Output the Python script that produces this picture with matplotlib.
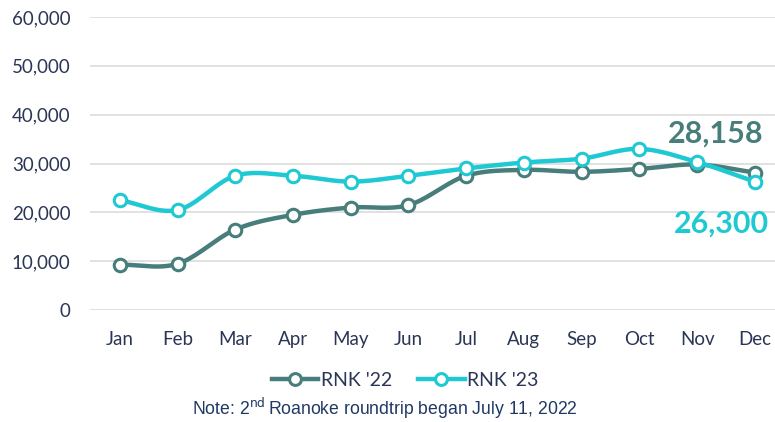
import numpy as np
import matplotlib.pyplot as plt
from matplotlib.lines import Line2D

months = ["Jan", "Feb", "Mar", "Apr", "May", "Jun", "Jul", "Aug", "Sep", "Oct", "Nov", "Dec"]
rnk_22 = [9300, 9500, 16500, 19500, 21000, 21500, 27500, 28700, 28300, 28900, 29800, 28158]
rnk_23 = [22500, 20500, 27500, 27500, 26300, 27500, 29000, 30200, 31000, 33000, 30300, 26300]
yticks = [0, 10000, 20000, 30000, 40000, 50000, 60000]

DARK = "#477D7B"
CYAN = "#1FC9D3"
TEXT = "#2B3656"


def smooth(x, y, n=20):
    """Catmull-Rom curve through the points (like Excel's smoothed line)."""
    x = np.asarray(x, float)
    y = np.asarray(y, float)
    px = np.concatenate([[2 * x[0] - x[1]], x, [2 * x[-1] - x[-2]]])
    py = np.concatenate([[2 * y[0] - y[1]], y, [2 * y[-1] - y[-2]]])
    xs, ys = [], []
    t = np.linspace(0, 1, n)
    for i in range(1, len(px) - 2):
        for p, out in ((px, xs), (py, ys)):
            p0, p1, p2, p3 = p[i - 1], p[i], p[i + 1], p[i + 2]
            out.append(0.5 * (2 * p1 + (-p0 + p2) * t
                              + (2 * p0 - 5 * p1 + 4 * p2 - p3) * t ** 2
                              + (-p0 + 3 * p1 - 3 * p2 + p3) * t ** 3))
    return np.concatenate(xs), np.concatenate(ys)


plt.rcParams["font.family"] = ["Lato", "DejaVu Sans"]

fig = plt.figure(figsize=(7.75, 4.22), dpi=100)
ax = fig.add_axes([0.116, 0.265, 0.884, 0.695])

x = np.arange(len(months))
for vals, color, z in ((rnk_22, DARK, 2), (rnk_23, CYAN, 3)):
    sx, sy = smooth(x, vals)
    ax.plot(sx, sy, color=color, lw=3.2, zorder=z, solid_capstyle="round")
    ax.plot(x, vals, ls="none", marker="o", ms=9, mfc="white", mec=color,
            mew=2.2, zorder=z + 0.5)

ax.set_xlim(-0.52, 11.35)
ax.set_ylim(0, 60000)
ax.set_yticks(yticks)
ax.set_yticklabels([f"{v:,}" for v in yticks])
ax.set_xticks(x)
ax.set_xticklabels(months)
ax.tick_params(axis="both", length=0, labelsize=13.5, colors=TEXT)
ax.tick_params(axis="y", pad=14)
ax.tick_params(axis="x", pad=15)
ax.grid(axis="y", color="#D9D9D9", lw=1.1)
ax.set_axisbelow(True)
for s in ax.spines.values():
    s.set_visible(False)

ax.text(11.15, 36200, f"{rnk_22[-1]:,}", color=DARK, fontsize=22,
        fontweight="bold", ha="right", va="center")
ax.text(11.25, 17800, f"{rnk_23[-1]:,}", color=CYAN, fontsize=22,
        fontweight="bold", ha="right", va="center")

handles = [
    Line2D([], [], color=DARK, lw=3.2, marker="o", ms=8.5, mfc="white", mec=DARK, mew=2.2),
    Line2D([], [], color=CYAN, lw=3.2, marker="o", ms=8.5, mfc="white", mec=CYAN, mew=2.2),
]
fig.legend(handles, ["RNK '22", "RNK '23"], loc="center", bbox_to_anchor=(0.523, 0.099),
           ncol=2, frameon=False, fontsize=14, labelcolor=TEXT,
           handlelength=2.4, handletextpad=0.15, columnspacing=1.3)

fig.text(0.497, 0.032, r"Note: 2$^{\mathrm{nd}}\,$Roanoke roundtrip began July 11, 2022",
         ha="center", va="center", fontsize=12.7, color="#1F3864",
         family="Liberation Sans")

fig.savefig("out.png", dpi=100)
